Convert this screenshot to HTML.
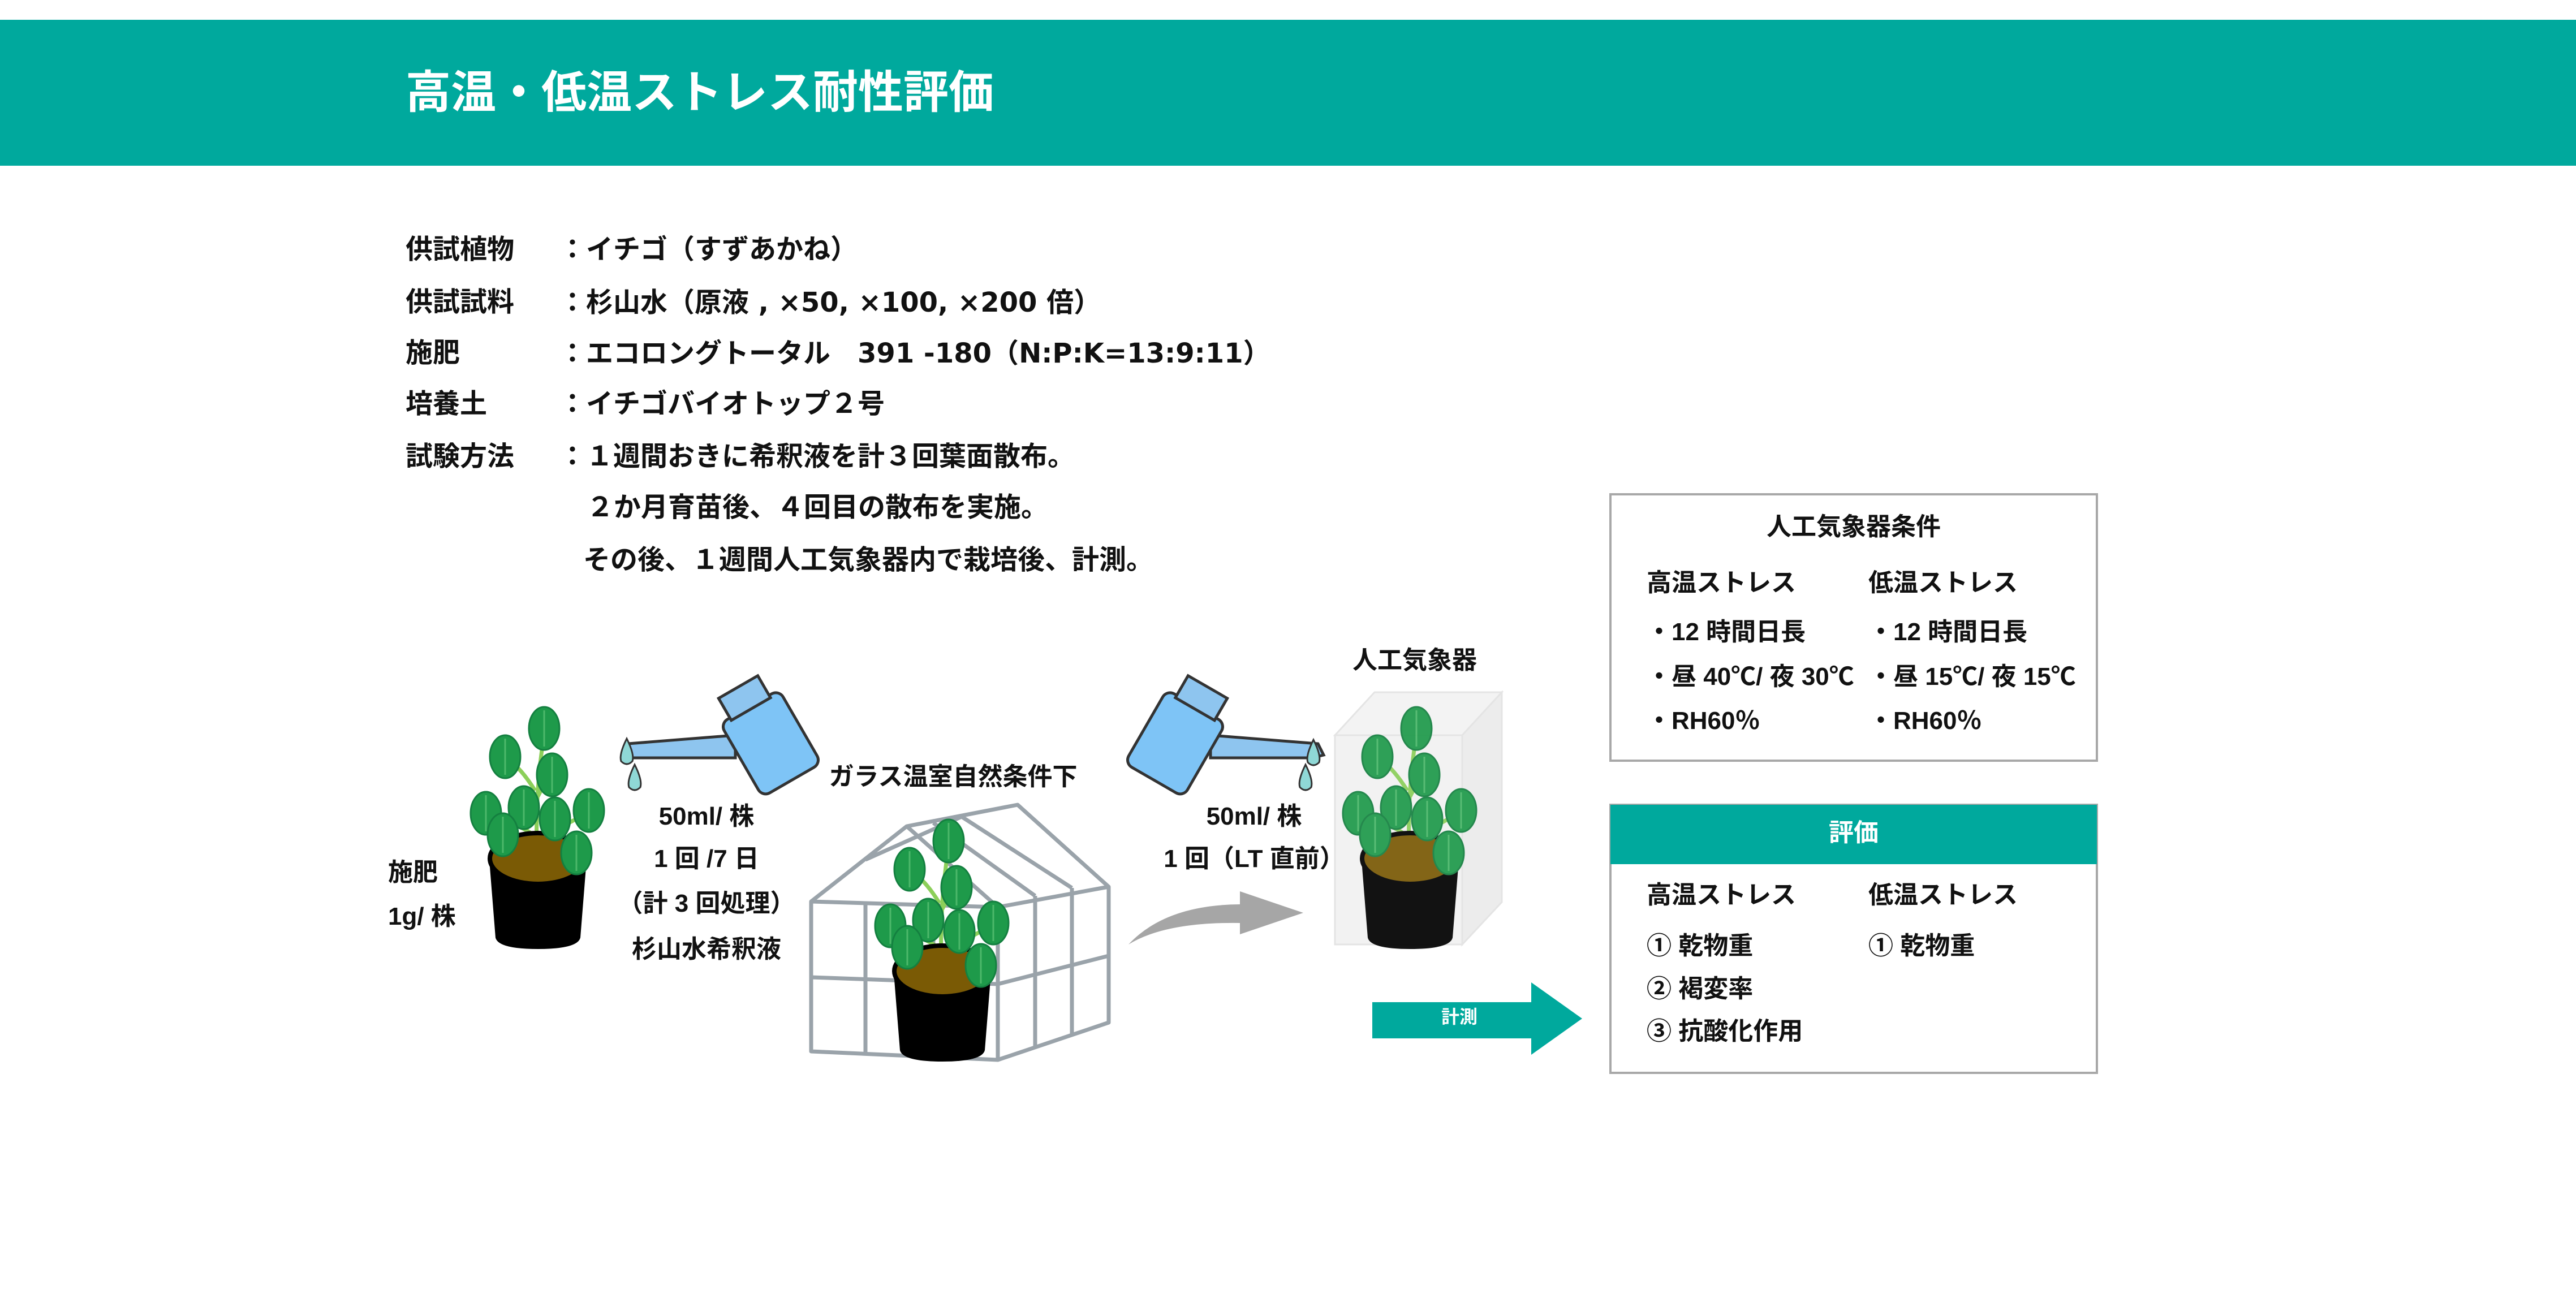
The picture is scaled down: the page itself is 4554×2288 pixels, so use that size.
<!DOCTYPE html>
<html><head><meta charset="utf-8"><style>
html,body{margin:0;padding:0}
body{width:4554px;height:2288px;position:relative;background:#fff;overflow:hidden;font-family:"Liberation Sans","Noto Sans CJK JP",sans-serif;color:#111}
.t{position:absolute;white-space:nowrap;font-weight:bold;line-height:1}
.s{font-size:48px}
.c{transform:translateX(-50%)}
.b{font-size:44px;font-weight:bold}
.d{font-family:"DejaVu Sans","Noto Sans CJK JP",sans-serif}
</style></head><body>
<div style="position:absolute;left:0;top:35px;width:4554px;height:258px;background:#00a99d"></div>
<div class="t" style="left:717px;top:124px;font-size:80px;color:#fff">高温・低温ストレス耐性評価</div>

<div class="t s" style="left:717px;top:418px">供試植物</div><div class="t s" style="left:988px;top:418px">：イチゴ（すずあかね）</div>
<div class="t s" style="left:717px;top:511px">供試試料</div><div class="t s" style="left:988px;top:511px">：杉山水（原液<span class="d"> , ×50, ×100, ×200 </span>倍）</div>
<div class="t s" style="left:717px;top:601px">施肥</div><div class="t s" style="left:988px;top:601px">：エコロングトータル　<span class="d">391 -180</span>（<span class="d">N:P:K=13:9:11</span>）</div>
<div class="t s" style="left:717px;top:691px">培養土</div><div class="t s" style="left:988px;top:691px">：イチゴバイオトップ２号</div>
<div class="t s" style="left:717px;top:784px">試験方法</div><div class="t s" style="left:988px;top:784px">：１週間おきに希釈液を計３回葉面散布。</div>
<div class="t s" style="left:1037px;top:874px">２か月育苗後、４回目の散布を実施。</div>
<div class="t s" style="left:1031px;top:967px">その後、１週間人工気象器内で栽培後、計測。</div>

<svg style="position:absolute;left:0;top:0" width="4554" height="2288" viewBox="0 0 4554 2288">
<defs>
<g id="leaf"><ellipse cx="0" cy="0" rx="27" ry="38" fill="#1e9a4a" stroke="#148040" stroke-width="3"/><line x1="0" y1="-32" x2="0" y2="32" stroke="#4cb86a" stroke-width="3"/></g>
<g id="plant">
<g stroke="#8ccf5a" stroke-width="7" fill="none">
<path d="M0,0 Q-8,-120 11,-240"/><path d="M0,0 Q-20,-60 -57,-61"/><path d="M0,0 Q30,-40 63,-31"/><path d="M-5,-60 Q-40,-85 -85,-92"/><path d="M0,-40 Q40,-80 84,-97"/><path d="M-5,-140 Q-30,-180 -52,-194"/><path d="M0,-130 Q10,-150 21,-164"/>
</g>
<path d="M-87,-30 L-75,120 Q-70,140 0,140 Q70,140 75,120 L87,-30 Z" fill="#000"/>
<ellipse cx="0" cy="-20" rx="85" ry="45" fill="#7a5a05" stroke="#000" stroke-width="8"/>
<use href="#leaf" x="11" y="-250"/><use href="#leaf" x="-58" y="-200"/><use href="#leaf" x="25" y="-168"/>
<use href="#leaf" x="-92" y="-100"/><use href="#leaf" x="-25" y="-110"/><use href="#leaf" x="90" y="-105"/>
<use href="#leaf" x="-62" y="-62"/><use href="#leaf" x="68" y="-30"/><use href="#leaf" x="30" y="-90"/>
</g>
<g id="can">
<path d="M0,0 L-190,15 L-200,35 L-180,40 L0,40 Z" fill="#8ec5ef" stroke="#333" stroke-width="5"/>
<g transform="rotate(-30 60 10)"><rect x="0" y="-60" width="120" height="150" rx="15" fill="#7ec4f6" stroke="#333" stroke-width="5"/>
<rect x="20" y="-100" width="80" height="45" fill="#8ec5ef" stroke="#333" stroke-width="5"/></g>
</g>
<path id="drop" d="M0,-28 Q14,0 10,12 Q0,22 -10,12 Q-14,0 0,-28 Z" fill="#8fd8d6" stroke="#333" stroke-width="3"/>
</defs>

<use href="#plant" x="951" y="1538"/>
<use href="#can" x="1300" y="1300"/>
<use href="#drop" x="1108" y="1334"/><use href="#drop" x="1122" y="1380"/>
<g transform="translate(2140,1300) scale(-1,1)"><use href="#can" x="0" y="0"/></g>
<use href="#drop" x="2322" y="1336"/><use href="#drop" x="2308" y="1380"/>

<g fill="none" stroke="#9aa3aa" stroke-width="7" stroke-linejoin="round">
<polygon points="1434,1859 1764,1874 1960,1808 1960,1568 1799,1423 1603,1461 1434,1594"/>
<polyline points="1434,1594 1764,1604 1960,1568"/>
<polyline points="1603,1461 1764,1604"/>
<line x1="1764" y1="1604" x2="1764" y2="1874"/>
<line x1="1434" y1="1728" x2="1764" y2="1740"/><line x1="1764" y1="1740" x2="1960" y2="1690"/>
<line x1="1530" y1="1598" x2="1530" y2="1864"/><line x1="1650" y1="1601" x2="1650" y2="1869"/>
<line x1="1830" y1="1584" x2="1830" y2="1852"/><line x1="1895" y1="1570" x2="1895" y2="1830"/>
<line x1="1650" y1="1455" x2="1830" y2="1584"/><line x1="1700" y1="1444" x2="1895" y2="1570"/>
<line x1="1530" y1="1520" x2="1700" y2="1444"/>
</g>
<use href="#plant" x="1666" y="1737"/>

<polygon points="2360,1300 2430,1224 2655,1224 2585,1300" fill="#f3f3f3" stroke="#e4e4e4" stroke-width="3"/>
<polygon points="2585,1300 2655,1224 2655,1595 2585,1670" fill="#ececec" stroke="#e4e4e4" stroke-width="3"/>
<rect x="2360" y="1300" width="225" height="370" fill="#f2f2f2" stroke="#e4e4e4" stroke-width="3"/>
<g opacity="0.92"><use href="#plant" x="2493" y="1538"/></g>

<path d="M1995,1670 Q2060,1600 2192,1599 L2192,1576 L2304,1614 L2192,1652 L2192,1632 Q2060,1630 1995,1670 Z" fill="#a6a6a6"/>
<polygon points="2426,1772 2707,1772 2707,1737 2797,1801 2707,1865 2707,1836 2426,1836" fill="#00a99d"/>

<rect x="2847" y="874" width="860" height="471" fill="#fff" stroke="#a8a8a8" stroke-width="4"/>
<rect x="2847" y="1423" width="860" height="474" fill="#fff" stroke="#a8a8a8" stroke-width="4"/>
<rect x="2847" y="1423" width="860" height="105" fill="#00a99d"/>
</svg>

<div class="t" style="left:2580px;top:1782px;font-size:32px;color:#fff;transform:translateX(-50%)">計測</div>

<div class="t b" style="left:686px;top:1521px">施肥</div>
<div class="t b" style="left:686px;top:1599px">1g/ 株</div>
<div class="t b c" style="left:1249px;top:1422px">50ml/ 株</div>
<div class="t b c" style="left:1249px;top:1497px">1 回 /7 日</div>
<div class="t b c" style="left:1249px;top:1576px">（計 3 回処理）</div>
<div class="t b c" style="left:1249px;top:1657px">杉山水希釈液</div>
<div class="t b c" style="left:1685px;top:1352px">ガラス温室自然条件下</div>
<div class="t b c" style="left:2501px;top:1146px">人工気象器</div>
<div class="t b c" style="left:2217px;top:1422px">50ml/ 株</div>
<div class="t b c" style="left:2217px;top:1497px">1 回（LT 直前）</div>

<div class="t b c" style="left:3277px;top:910px">人工気象器条件</div>
<div class="t b" style="left:2911px;top:1009px">高温ストレス</div><div class="t b" style="left:3303px;top:1009px">低温ストレス</div>
<div class="t b" style="left:2911px;top:1096px">・12 時間日長</div><div class="t b" style="left:3303px;top:1096px">・12 時間日長</div>
<div class="t b" style="left:2911px;top:1175px">・昼 40℃/ 夜 30℃</div><div class="t b" style="left:3303px;top:1175px">・昼 15℃/ 夜 15℃</div>
<div class="t b" style="left:2911px;top:1253px">・RH60％</div><div class="t b" style="left:3303px;top:1253px">・RH60％</div>

<div class="t b c" style="left:3277px;top:1451px;color:#fff">評価</div>
<div class="t b" style="left:2911px;top:1561px">高温ストレス</div><div class="t b" style="left:3303px;top:1561px">低温ストレス</div>
<div class="t b" style="left:2911px;top:1651px">① 乾物重</div><div class="t b" style="left:3303px;top:1651px">① 乾物重</div>
<div class="t b" style="left:2911px;top:1727px">② 褐変率</div>
<div class="t b" style="left:2911px;top:1802px">③ 抗酸化作用</div>
</body></html>
